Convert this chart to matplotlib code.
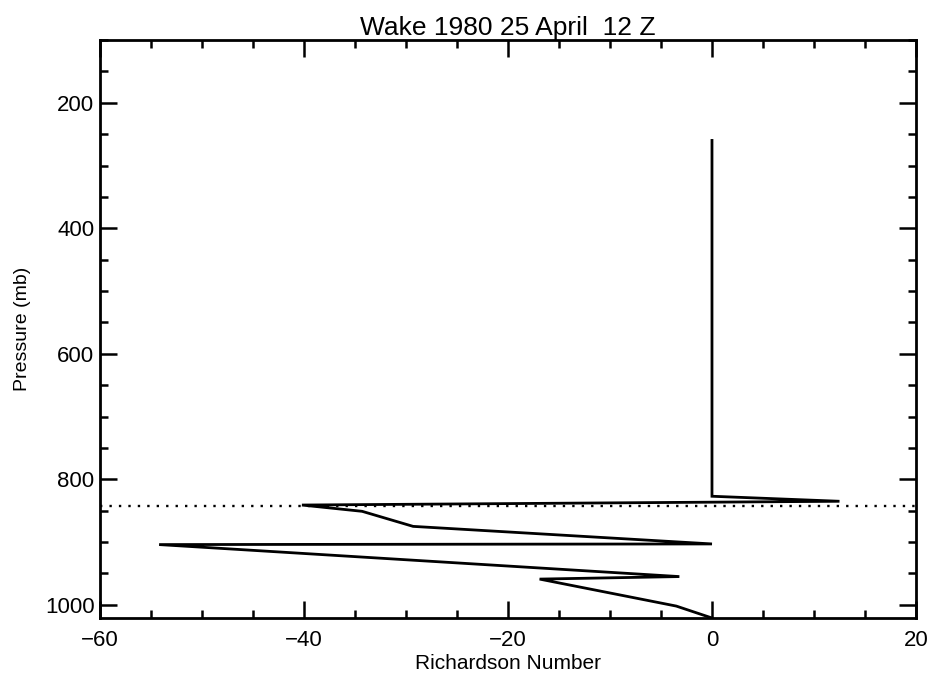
## Richardson number profile for a single sounding
import matplotlib
matplotlib.use("Agg")
import matplotlib.pyplot as plt
from matplotlib.ticker import MultipleLocator

## profile values, top of the sounding first
richardson = [0.0, 0.0, 12.5, -40.2, -34.3, -29.3, 0.0, -54.2, -3.2, -16.9, -3.5, 0.0]
pressure = [260, 827, 835, 841, 851, 875, 903, 904, 955, 959, 1002, 1021]

## level marked with the dotted line
mark_level = 843

title = "Wake 1980 25 April  12 Z"
xlabel = "Richardson Number"
ylabel = "Pressure (mb)"

plt.rcParams['font.family'] = ['Liberation Sans', 'DejaVu Sans']

fig = plt.figure(figsize=(9.29, 6.76), dpi=100)
ax = fig.add_axes([0.1076, 0.0858, 0.8784, 0.855])

ax.plot(richardson, pressure, color="black", linewidth=2.0, solid_joinstyle="miter")
ax.axhline(mark_level, color="black", linewidth=1.7, linestyle=(0, (1, 3)))

ax.set_xlim(-60, 20)
ax.set_ylim(1021, 100)

ax.xaxis.set_major_locator(MultipleLocator(20))
ax.xaxis.set_minor_locator(MultipleLocator(5))
ax.yaxis.set_major_locator(MultipleLocator(200))
ax.yaxis.set_minor_locator(MultipleLocator(50))

ax.tick_params(which="both", direction="in", top=True, right=True, width=1.8, colors="black")
ax.tick_params(which="major", length=12, labelsize=16)
ax.tick_params(axis="x", which="major", pad=9)
ax.tick_params(axis="y", which="major", pad=4)
ax.tick_params(which="minor", length=6)
ax.set_yticks([200, 400, 600, 800, 1000])
ax.set_yticklabels(["200", "400", "600", "800", "1000"])
ax.set_xticklabels([f"{int(t)}".replace("-", "\u2212") for t in ax.get_xticks()])

for side in ax.spines.values():
    side.set_linewidth(2.0)

ax.set_xlabel(xlabel, fontsize=15, labelpad=2)
ax.set_ylabel(ylabel, fontsize=14, labelpad=10)
ax.set_title(title, fontsize=19, pad=3)

plt.savefig("out.png", dpi=100)
